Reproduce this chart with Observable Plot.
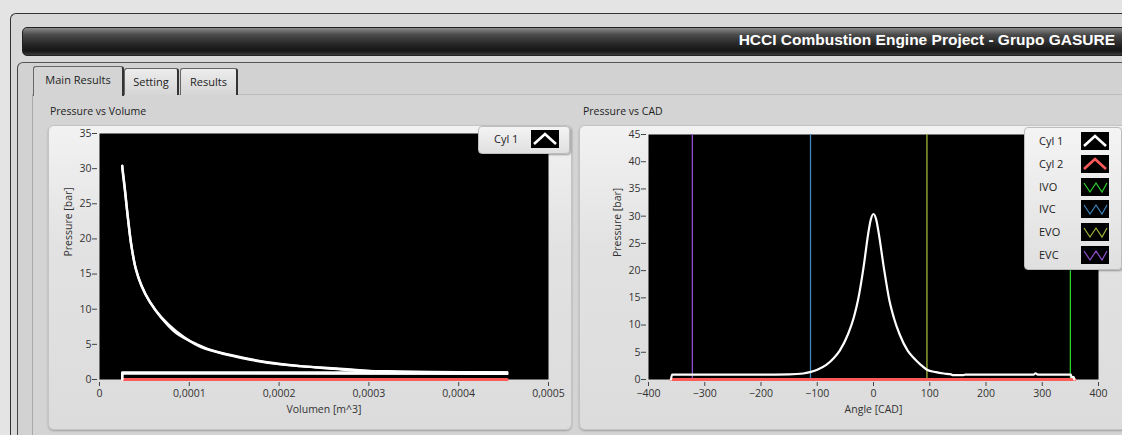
<!DOCTYPE html>
<html>
<head>
<meta charset="utf-8">
<script src="https://cdn.jsdelivr.net/npm/d3@7"></script>
<script src="https://cdn.jsdelivr.net/npm/@observablehq/plot@0.6"></script>
<style>
  html, body { margin:0; padding:0; }
  body { width:1122px; height:435px; overflow:hidden; background:#e4e4e4; position:relative; font-family:"Open Sans","Noto Sans",sans-serif; color:#222; }
  .abs { position:absolute; }
  #outer { left:10px; top:13px; width:1120px; height:430px; background:#d8d8d8; border-left:1px solid #333; border-top:1px solid #333; border-radius:6px 0 0 0; }
  #titlebar { left:22px; top:27px; width:1110px; height:27px; border:1px solid #222; border-radius:5px 0 0 5px;
    background:linear-gradient(#8a8a8a 0%, #4a4a4a 25%, #262626 60%, #151515 85%, #3a3a3a 100%); }
  #title { right:7px; top:31px; color:#fff; font-weight:bold; font-size:15.5px; font-family:"Liberation Sans",Arial,sans-serif; }
  #tabpanel { left:17px; top:62px; width:1110px; height:380px; background:#d2d2d2; border-left:1px solid #444; border-top:1px solid #555; border-radius:6px 0 0 0; }
  #page { left:32px; top:94px; width:1100px; height:350px; background:#d4d4d4; border-left:1px solid #aaa; border-top:1px solid #bbb; }
  .tab { top:68px; height:26px; border:1px solid #666; border-bottom:none; border-right:2px solid #333; border-radius:3px 3px 0 0; font-size:11px; line-height:26px; text-align:center; background:linear-gradient(#ececec,#d6d6d6); }
  .lbl { font-size:10.5px; top:104px; }
  .frame { top:125px; height:303px; border-radius:6px; background:linear-gradient(#f2f2f2, #e2e2e2 40%, #dcdcdc); border:1px solid #c4c4c4; box-shadow:0 1px 2px rgba(0,0,0,0.25); }
  .legend { background:linear-gradient(#f4f4f4,#e0e0e0); border:1px solid #bdbdbd; border-radius:4px; box-shadow:1px 1px 2px rgba(0,0,0,0.35); font-size:11px; }
  .row { position:absolute; left:0; height:20px; width:100%; }
  .row span { position:absolute; top:1px; }
  .row svg { position:absolute; background:#000; }
  .plot { position:absolute; }
</style>
</head>
<body>
<div id="outer" class="abs"></div>
<div id="titlebar" class="abs"></div>
<div id="title" class="abs">HCCI Combustion Engine Project - Grupo GASURE</div>
<div id="tabpanel" class="abs"></div>
<div id="page" class="abs"></div>
<div class="tab abs" style="left:33px;width:88px;top:66px;height:29px;background:#d4d4d4;">Main Results</div>
<div class="tab abs" style="left:124px;width:52px;">Setting</div>
<div class="tab abs" style="left:180px;width:55px;">Results</div>
<div class="lbl abs" style="left:50px;">Pressure vs Volume</div>
<div class="lbl abs" style="left:583px;">Pressure vs CAD</div>
<div class="frame abs" style="left:48px;width:522px;"></div>
<div class="frame abs" style="left:579px;width:560px;"></div>
<div id="pv" class="plot" style="left:48px;top:125px;"></div>
<div id="cad" class="plot" style="left:580px;top:125px;"></div>
<div id="leg1" class="legend abs" style="left:478px;top:126px;width:90px;height:26px;"></div>
<div id="leg2" class="legend abs" style="left:1024px;top:127px;width:96px;height:141px;"></div>
<script>
// ---------- data ----------
// Pressure vs Volume, Cyl 1 (one cycle: intake, compression, expansion, exhaust)
const pvVolume = [
  0.0000253, 0.0000253, 0.0001, 0.000454,
  0.000454, 0.00040, 0.00035, 0.00030, 0.000276, 0.00024, 0.0002015, 0.00017, 0.00015, 0.000132, 0.0001077,
  0.0000854, 0.0000687, 0.0000557, 0.0000464, 0.0000401, 0.0000353, 0.0000316, 0.0000278, 0.0000253,
  0.0000258, 0.0000282, 0.000032, 0.0000357, 0.0000405, 0.0000468, 0.0000562, 0.0000692, 0.000086, 0.0001125,
  0.0001496, 0.0001867, 0.000224, 0.000261, 0.000283, 0.000335, 0.0004, 0.000454,
  0.000454, 0.00011, 0.0000253, 0.0000253
];
const pvPressure = [
  0, 0.85, 0.85, 0.8,
  0.8, 0.9, 1.0, 1.2, 1.45, 1.75, 2.15, 2.75, 3.3, 3.85, 5.05,
  6.6, 8.8, 11.1, 13.5, 15.9, 19.2, 23.0, 27.7, 30.4,
  29.6, 27.0, 22.6, 18.9, 15.7, 13.3, 11.0, 8.8, 6.8, 4.65,
  3.4, 2.46, 1.9, 1.52, 1.28, 1.14, 1.05, 1.0,
  1.0, 1.0, 1.0, 0
];
// Cyl 2 (flat at zero)
const pvVolume2 = [0.0000253, 0.000454];
const pvPressure2 = [0, 0];

// Pressure vs CAD, Cyl 1
const cadAngle = [
  -360, -358, -300, -200, -150, -125, -113, -100, -84, -70, -60, -45, -35, -27.7, -17.7, -9.4, -5, 0,
  5, 9.4, 18.3, 28.3, 36, 46, 60.7, 72, 84, 95, 111, 125, 138, 141, 160, 163, 285, 288, 292, 351, 352, 356, 357
];
const cadPressure = [
  0, 0.9, 0.9, 0.9, 0.95, 1.1, 1.35, 1.8, 2.7, 4.0, 5.3, 8.4, 11.4, 14.5, 20.6, 26.8, 29.3, 30.4,
  29.3, 26.8, 20.6, 14.5, 11.4, 8.4, 5.3, 3.9, 2.7, 1.8, 1.35, 1.1, 0.95, 0.8, 0.8, 0.9, 0.9, 1.15, 0.9, 0.9, 0.45, 0.45, 0
];
const cadAngle2 = [-360, 358];
const cadPressure2 = [0, 0];

// valve events [CAD]
const valveNames = ["IVO", "IVC", "EVO", "EVC"];
const valveAngles = [350, -112, 95, -322];
const valveColors = ["#2bd42b", "#3f86bd", "#a4b43c", "#8e4fd0"];

const pvTicksX = [0, 0.0001, 0.0002, 0.0003, 0.0004, 0.0005];
const pvTicksY = [0, 5, 10, 15, 20, 25, 30, 35];
const cadTicksX = [-400, -300, -200, -100, 0, 100, 200, 300, 400];
const cadTicksY = [0, 5, 10, 15, 20, 25, 30, 35, 40, 45];

// ---------- build ----------
const fmtComma = d => d === 0 ? "0" : String(+d.toFixed(4)).replace(".", ",");
const font = "'Open Sans','Noto Sans',sans-serif";
const style = {background:"transparent", color:"#333", fontFamily:font, fontSize:"10.5px", overflow:"visible"};

const pvRows = pvVolume.map((v,i) => ({v, p: pvPressure[i]}));
const pvRows2 = pvVolume2.map((v,i) => ({v, p: pvPressure2[i]}));
const cadRows = cadAngle.map((a,i) => ({a, p: cadPressure[i]}));
const cadRows2 = cadAngle2.map((a,i) => ({a, p: cadPressure2[i]}));
const valves = valveNames.map((n,i) => ({n, a: valveAngles[i], c: valveColors[i]}));

// phases of the cycle: straight low-pressure strokes and smooth compression / expansion
const intake = pvRows.slice(0, 4);
const compression = pvRows.slice(3, 24);
const expansion = pvRows.slice(23, 42);
const exhaust = pvRows.slice(41);

const pv = Plot.plot({
  width: 522, height: 305,
  marginLeft: 51, marginRight: 22, marginTop: 8, marginBottom: 51,
  style,
  x: {domain: [0, 0.0005]},
  y: {domain: [0, 35]},
  marks: [
    Plot.frame({fill: "#000", stroke: null}),
    Plot.axisX({ticks: pvTicksX, tickFormat: fmtComma, tickSize: 4, dy: 3, tickPadding: 3, label: null, stroke:"#444"}),
    Plot.axisY({ticks: pvTicksY, tickSize: 5, dx: -2, tickPadding: 1, label: null, stroke:"#444"}),
    Plot.text(["Volumen [m^3]"], {frameAnchor: "bottom", dy: 33, text: d => d, fill:"#333"}),
    Plot.text(["Pressure [bar]"], {frameAnchor: "left", dx: -31, rotate: -90, text: d => d, fill:"#333"}),
    Plot.line(pvRows2, {x: "v", y: "p", stroke: "#ff5a5a", strokeWidth: 3}),
    Plot.line(intake, {x: "v", y: "p", stroke: "#fff", strokeWidth: 2.4}),
    Plot.line(exhaust, {x: "v", y: "p", stroke: "#fff", strokeWidth: 2.4}),
    Plot.line(compression, {x: "v", y: "p", stroke: "#fff", strokeWidth: 2.4, curve: "catmull-rom"}),
    Plot.line(expansion, {x: "v", y: "p", stroke: "#fff", strokeWidth: 2.4, curve: "catmull-rom"})
  ]
});
document.getElementById("pv").appendChild(pv);

const cad = Plot.plot({
  width: 542, height: 305,
  marginLeft: 68, marginRight: 24, marginTop: 9, marginBottom: 51,
  style,
  x: {domain: [-400, 400]},
  y: {domain: [0, 45]},
  marks: [
    Plot.frame({fill: "#000", stroke: null}),
    Plot.axisX({ticks: cadTicksX, tickSize: 4, dy: 3, tickPadding: 3, label: null, stroke:"#444"}),
    Plot.axisY({ticks: cadTicksY, tickSize: 5, dx: -2, tickPadding: 1, label: null, stroke:"#444"}),
    Plot.text(["Angle [CAD]"], {frameAnchor: "bottom", dy: 33, text: d => d, fill:"#333"}),
    Plot.text(["Pressure [bar]"], {frameAnchor: "left", dx: -31, rotate: -90, text: d => d, fill:"#333"}),
    Plot.ruleX(valves, {x: "a", stroke: "c", strokeWidth: 1.3}),
    Plot.line(cadRows2, {x: "a", y: "p", stroke: "#ff5a5a", strokeWidth: 3}),
    Plot.line(cadRows, {x: "a", y: "p", stroke: "#fff", strokeWidth: 2.2, curve: "monotone-x"})
  ]
});
document.getElementById("cad").appendChild(cad);

// ---------- legends ----------
const chevron = "3,14 14,4 25,14";
const zigzag = "3,5 9,14 15,5 21,14 26,5";
function legendRow(parent, top, name, color, pts, w, textLeft, swLeft) {
  const r = document.createElement("div");
  r.className = "row"; r.style.top = top + "px";
  r.innerHTML = `<span style="left:${textLeft}px">${name}</span>` +
    `<svg width="28" height="18" style="left:${swLeft}px;top:0"><polyline points="${pts}" fill="none" stroke="${color}" stroke-width="${w}" stroke-linejoin="miter"/></svg>`;
  parent.appendChild(r);
}
const leg1 = document.getElementById("leg1");
legendRow(leg1, 3, "Cyl 1", "#fff", chevron, 2.6, 15, 52);
const leg2 = document.getElementById("leg2");
const legNames = ["Cyl 1", "Cyl 2", ...valveNames];
const legColors = ["#fff", "#ff5a5a", ...valveColors];
legNames.forEach((n,i) => {
  const isCyl = i < 2;
  legendRow(leg2, 4 + i * 22.8, n, legColors[i], isCyl ? chevron : zigzag, isCyl ? 2.6 : 1.2, 14, 56);
});
</script>
</body>
</html>
